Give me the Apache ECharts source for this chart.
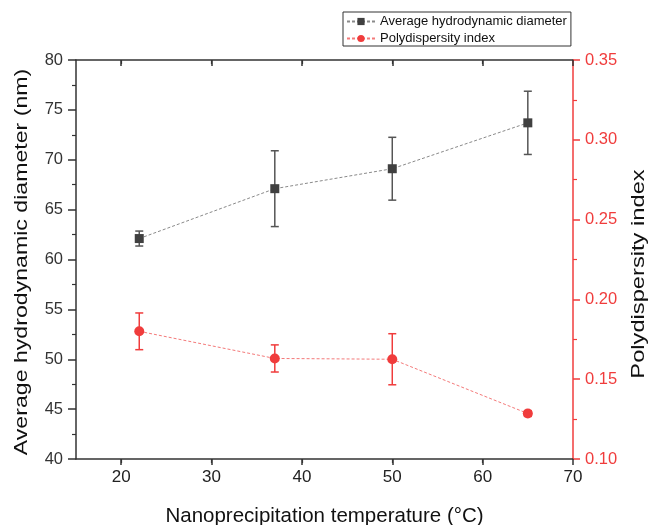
<!DOCTYPE html>
<html>
<head>
<meta charset="utf-8">
<script src="https://cdn.jsdelivr.net/npm/echarts@6/dist/echarts.min.js"></script>
<style>html,body{margin:0;padding:0;background:#fff;width:100%;height:100%;overflow:hidden}#c{width:100vw;height:100vh}</style>
</head>
<body>
<div id="c"></div>
<script>
var temps = [22, 37, 50, 65];
var diameter = [62.1, 67.1, 69.1, 73.7];
var diameterErr = [0.75, 3.8, 3.15, 3.17];
var pdi = [0.180, 0.163, 0.1625, 0.1285];
var pdiErr = [0.0115, 0.0085, 0.016, 0.0018];
var xTicks = [20, 30, 40, 50, 60, 70];

var FONT = 'Liberation Sans, Arial, sans-serif';
var BLACK = '#404040';
var RED = '#f03c3c';

function pairs(xs, ys) { return xs.map(function (x, i) { return [x, ys[i]]; }); }
function errData(xs, ys, es) { return xs.map(function (x, i) { return [x, ys[i] - es[i], ys[i] + es[i]]; }); }
function errRender(color) {
  return function (params, api) {
    var x = api.value(0);
    var lo = api.coord([x, api.value(1)]);
    var hi = api.coord([x, api.value(2)]);
    var w = 4;
    var st = { stroke: color, lineWidth: 1.5 };
    return { type: 'group', children: [
      { type: 'line', shape: { x1: lo[0], y1: lo[1], x2: hi[0], y2: hi[1] }, style: st },
      { type: 'line', shape: { x1: lo[0] - w, y1: lo[1], x2: lo[0] + w, y2: lo[1] }, style: st },
      { type: 'line', shape: { x1: hi[0] - w, y1: hi[1], x2: hi[0] + w, y2: hi[1] }, style: st }
    ]};
  };
}

var chart = echarts.init(document.getElementById('c'), null, { renderer: 'canvas' });
chart.setOption({
  animation: false,
  backgroundColor: '#fff',
  textStyle: { fontFamily: FONT },
  grid: { left: 76, top: 60, width: 497, height: 399, containLabel: false, outerBoundsMode: 'none' },
  legend: {
    left: 343, top: 12,
    orient: 'vertical',
    itemGap: 4, itemWidth: 28, itemHeight: 9,
    borderColor: '#333', borderWidth: 1, borderRadius: 0,
    padding: [3, 4, 1, 3],
    textStyle: { fontFamily: FONT, fontSize: 13, color: '#111' },
    data: ['Average hydrodynamic diameter', 'Polydispersity index']
  },
  graphic: [{
    type: 'text', x: 22, y: 262, rotation: Math.PI / 2, scaleX: 1.25, scaleY: 1,
    style: { text: 'Average hydrodynamic diameter (nm)', font: '18.5px ' + FONT, fill: '#111', align: 'center', verticalAlign: 'middle' },
    silent: true
  }, {
    type: 'text', x: 639, y: 274, rotation: Math.PI / 2, scaleX: 1.28, scaleY: 1,
    style: { text: 'Polydispersity index', font: '18.5px ' + FONT, fill: '#111', align: 'center', verticalAlign: 'middle' },
    silent: true
  }],
  xAxis: [{
    type: 'value', min: 15, max: 70, interval: 10,
    name: 'Nanoprecipitation temperature (°C)', nameLocation: 'middle', nameGap: 47,
    nameTextStyle: { fontSize: 20.5, color: '#111', fontFamily: FONT },
    axisLine: { show: true, lineStyle: { color: '#333', width: 1.5 } },
    axisTick: { show: true, inside: false, length: 6, lineStyle: { color: '#333', width: 1.5 }, customValues: xTicks },
    minorTick: { show: true, splitNumber: 2, length: 4, lineStyle: { color: '#333', width: 1.2 } },
    axisLabel: { fontSize: 17, color: '#222', margin: 10, fontFamily: FONT, customValues: xTicks },
    splitLine: { show: false }
  }, {
    type: 'value', min: 15, max: 70, interval: 10, position: 'top',
    axisLine: { show: true, lineStyle: { color: '#333', width: 1.5 } },
    axisTick: { show: true, inside: true, length: 6, lineStyle: { color: '#333', width: 1.5 }, customValues: xTicks },
    minorTick: { show: true, splitNumber: 2, length: 4, lineStyle: { color: '#333', width: 1.2 } },
    axisLabel: { show: false },
    splitLine: { show: false }
  }],
  yAxis: [{
    type: 'value', min: 40, max: 80, interval: 5, position: 'left',
    axisLine: { show: true, lineStyle: { color: '#333', width: 1.5 } },
    axisTick: { show: true, inside: false, length: 8, lineStyle: { color: '#333', width: 1.5 } },
    minorTick: { show: true, splitNumber: 2, length: 4, lineStyle: { color: '#333', width: 1.2 } },
    axisLabel: { fontSize: 16.5, color: '#333', margin: 13, fontFamily: FONT },
    splitLine: { show: false }
  }, {
    type: 'value', min: 0.10, max: 0.35, interval: 0.05, position: 'right',
    axisLine: { show: true, lineStyle: { color: RED, width: 1.5 } },
    axisTick: { show: true, inside: false, length: 7, lineStyle: { color: RED, width: 1.5 } },
    minorTick: { show: true, splitNumber: 2, length: 4, lineStyle: { color: RED, width: 1.2 } },
    axisLabel: { fontSize: 16.5, color: RED, margin: 12, fontFamily: FONT, formatter: function (v) { return v.toFixed(2); } },
    splitLine: { show: false }
  }],
  series: [{
    name: 'Average hydrodynamic diameter', type: 'line', xAxisIndex: 0, yAxisIndex: 0,
    data: pairs(temps, diameter), symbol: 'rect', symbolSize: 9, z: 5,
    itemStyle: { color: BLACK },
    lineStyle: { color: '#8a8a8a', width: 1, type: [3, 2] }
  }, {
    name: 'Polydispersity index', type: 'line', xAxisIndex: 0, yAxisIndex: 1,
    data: pairs(temps, pdi), symbol: 'circle', symbolSize: 10, z: 5,
    itemStyle: { color: RED },
    lineStyle: { color: '#f47a7a', width: 1, type: [3, 2] }
  }, {
    type: 'custom', xAxisIndex: 0, yAxisIndex: 0, z: 3,
    data: errData(temps, diameter, diameterErr),
    renderItem: errRender('#555'), encode: { x: 0, y: [1, 2] }, silent: true
  }, {
    type: 'custom', xAxisIndex: 0, yAxisIndex: 1, z: 3,
    data: errData(temps, pdi, pdiErr),
    renderItem: errRender(RED), encode: { x: 0, y: [1, 2] }, silent: true
  }]
});
</script>
</body>
</html>
